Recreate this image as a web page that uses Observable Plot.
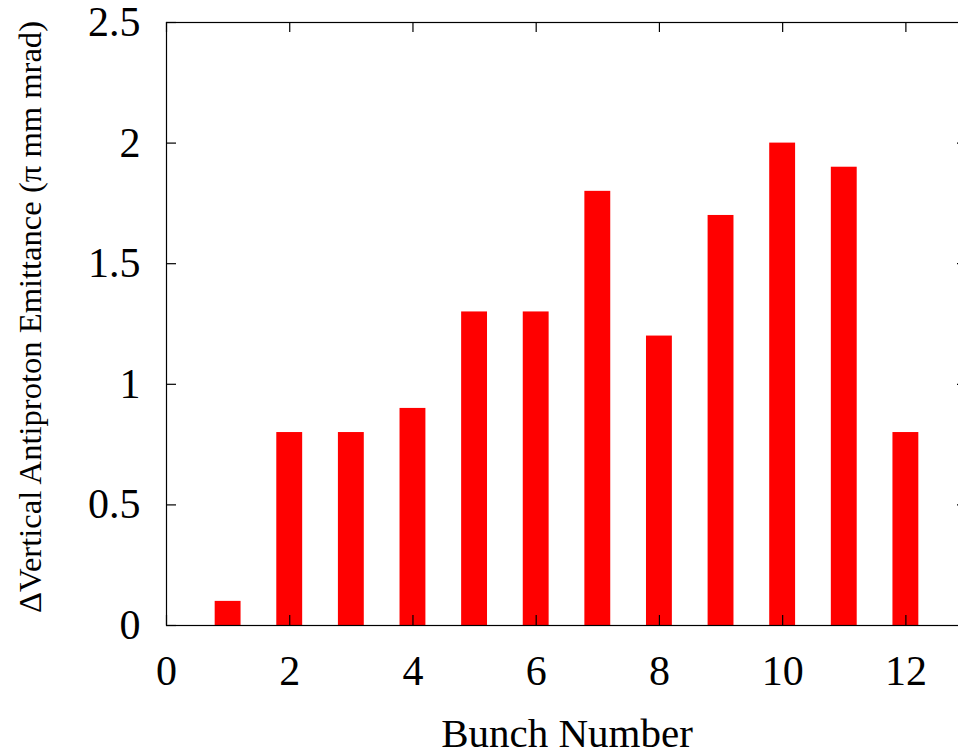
<!DOCTYPE html>
<html>
<head>
<meta charset="utf-8">
<script src="https://cdn.jsdelivr.net/npm/d3@7"></script>
<script src="https://cdn.jsdelivr.net/npm/@observablehq/plot@0.6"></script>
<style>
  html, body { margin: 0; padding: 0; background: #fff; }
  svg { display: block; }
</style>
</head>
<body>
<div id="chart"></div>
<script>
const bunches = [1, 2, 3, 4, 5, 6, 7, 8, 9, 10, 11, 12];
const emittance = [0.1, 0.8, 0.8, 0.9, 1.3, 1.3, 1.8, 1.2, 1.7, 2.0, 1.9, 0.8];
const xTicks = [0, 2, 4, 6, 8, 10, 12];
const yTicks = [0, 0.5, 1, 1.5, 2, 2.5];
const xLabel = "Bunch Number";
const yLabel = "ΔVertical Antiproton Emittance (π mm mrad)";

const data = bunches.map((b, i) => ({bunch: b, value: emittance[i]}));
const halfWidth = 0.21;
const font = "'Liberation Serif', 'Times New Roman', serif";

const chart = Plot.plot({
  width: 958,
  height: 754,
  marginLeft: 166,
  marginTop: 22,
  marginBottom: 129,
  marginRight: -9,
  style: {fontFamily: font, background: "#fff"},
  x: {domain: [0, 13], axis: null},
  y: {domain: [0, 2.5], axis: null},
  marks: [
    Plot.rectY(data, {x1: d => d.bunch - halfWidth, x2: d => d.bunch + halfWidth, y1: 0, y2: "value", fill: "#ff0000"}),
    // inward ticks: bottom and top
    Plot.ruleX(xTicks, {x: d => d, y1: 0, y2: 0, insetBottom: 10, stroke: "#000", strokeWidth: 1.2}),
    Plot.ruleX(xTicks, {x: d => d, y1: 2.5, y2: 2.5, insetTop: 10, stroke: "#000", strokeWidth: 1.2}),
    // inward ticks: left and right
    Plot.ruleY(yTicks, {y: d => d, x1: 0, x2: 0, insetLeft: 10, stroke: "#000", strokeWidth: 1.2}),
    Plot.ruleY(yTicks, {y: d => d, x1: 13, x2: 13, insetRight: 10, stroke: "#000", strokeWidth: 1.2}),
    Plot.frame({stroke: "#000", strokeWidth: 1.2}),
    // tick labels
    Plot.text(xTicks, {x: d => d, frameAnchor: "bottom", dy: 59, lineAnchor: "bottom", text: d => String(d), fontSize: 42, fill: "#000"}),
    Plot.text(yTicks, {y: d => d, frameAnchor: "left", dx: -26, textAnchor: "end", lineAnchor: "middle", text: d => String(d), fontSize: 42, fill: "#000"}),
    // axis titles
    Plot.text([xLabel], {frameAnchor: "bottom", dy: 121, lineAnchor: "bottom", textAnchor: "middle", text: d => d, fontSize: 41, fill: "#000"}),
    Plot.text([yLabel], {frameAnchor: "left", dx: -136, dy: -7, rotate: -90, textAnchor: "middle", lineAnchor: "middle", text: d => d, fontSize: 32.6, fill: "#000"})
  ]
});
document.getElementById("chart").appendChild(chart);
</script>
</body>
</html>
